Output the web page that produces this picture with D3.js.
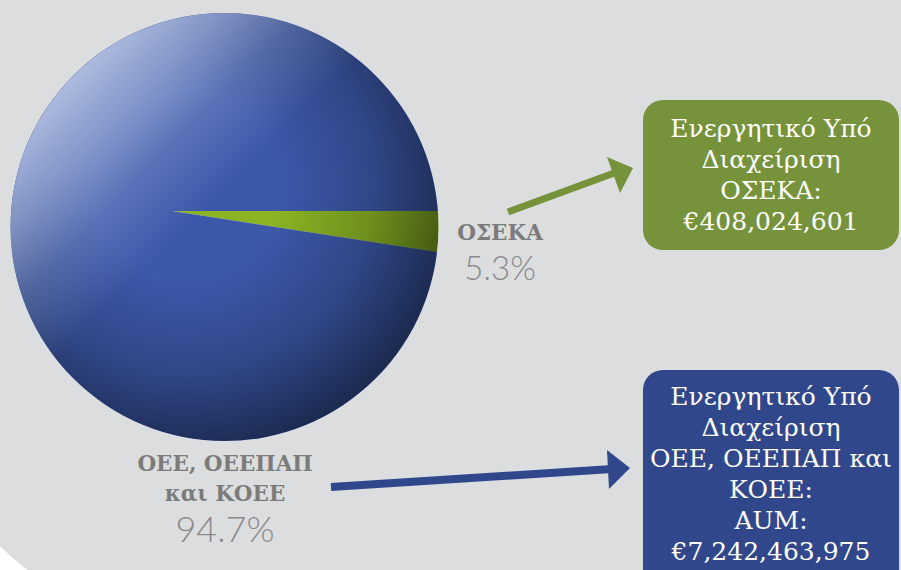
<!DOCTYPE html>
<html>
<head>
<meta charset="utf-8">
<script src="https://cdn.jsdelivr.net/npm/d3@7"></script>
<style>
  body { margin: 0; background: #ffffff; }
  svg { display: block; }
</style>
</head>
<body>
<div id="chart"></div>
<script>
// data
var categories = ['ΟΣΕΚΑ', 'ΟΕΕ, ΟΕΕΠΑΠ και ΚΟΕΕ'];
var shares = [5.3, 94.7];
var aumValues = [408024601, 7242463975];
var pieLabelLines = [['ΟΣΕΚΑ'], ['ΟΕΕ, ΟΕΕΠΑΠ', 'και ΚΟΕΕ']];
var boxLines = [
  ['Ενεργητικό Υπό', 'Διαχείριση', 'ΟΣΕΚΑ:'],
  ['Ενεργητικό Υπό', 'Διαχείριση', 'ΟΕΕ, ΟΕΕΠΑΠ και', 'ΚΟΕΕ:', 'AUM:']
];

var width = 901, height = 570;
var cx = 224.5, cy = 227, r = 214;        // pie disc
var apex = {x: 172, y: 211};              // tilted pie centre
var tilt = 0.446;

var sliceColors = ['#8ab424', '#3c58a9'];
var boxColors = ['#76933b', '#30488b'];

var svg = d3.select('#chart').append('svg')
  .attr('width', width)
  .attr('height', height);

var defs = svg.append('defs');

// background
svg.append('rect')
  .attr('width', width)
  .attr('height', height)
  .attr('fill', '#dcdddf');
svg.append('path')
  .attr('d', 'M0,546 Q14,560 28,570 L0,570 Z')
  .attr('fill', '#ffffff');

defs.append('clipPath').attr('id', 'disc')
  .append('circle')
  .attr('cx', cx).attr('cy', cy).attr('r', r);

// shading
var dark = defs.append('radialGradient')
  .attr('id', 'dark')
  .attr('gradientUnits', 'userSpaceOnUse')
  .attr('cx', 185).attr('cy', 185).attr('r', 268);
dark.append('stop').attr('offset', 0.35).attr('stop-color', '#000').attr('stop-opacity', 0);
dark.append('stop').attr('offset', 0.7).attr('stop-color', '#000').attr('stop-opacity', 0.2);
dark.append('stop').attr('offset', 1).attr('stop-color', '#000').attr('stop-opacity', 0.52);

var light = defs.append('linearGradient')
  .attr('id', 'light')
  .attr('gradientUnits', 'userSpaceOnUse')
  .attr('x1', 73).attr('y1', 76)
  .attr('x2', 376).attr('y2', 378);
light.append('stop').attr('offset', 0).attr('stop-color', '#b4c1e4').attr('stop-opacity', 0.95);
light.append('stop').attr('offset', 0.14).attr('stop-color', '#b4c1e4').attr('stop-opacity', 0.62);
light.append('stop').attr('offset', 0.28).attr('stop-color', '#b4c1e4').attr('stop-opacity', 0.24);
light.append('stop').attr('offset', 0.44).attr('stop-color', '#b4c1e4').attr('stop-opacity', 0);

var pie = d3.pie()
  .sort(null)
  .startAngle(Math.PI / 2)
  .endAngle(Math.PI / 2 + Math.PI * 2);

var arc = d3.arc()
  .innerRadius(0)
  .outerRadius(700);

var disc = svg.append('g').attr('clip-path', 'url(#disc)');

disc.append('g')
  .attr('transform', 'translate(' + apex.x + ',' + apex.y + ') scale(1,' + tilt + ')')
  .selectAll('path')
  .data(pie(shares))
  .enter().append('path')
  .attr('d', arc)
  .attr('fill', function(d, i) { return sliceColors[i]; });

disc.append('circle')
  .attr('cx', cx).attr('cy', cy).attr('r', r)
  .attr('fill', 'url(#dark)');
disc.append('circle')
  .attr('cx', cx).attr('cy', cy).attr('r', r)
  .attr('fill', 'url(#light)');

// pie labels
var pctFormat = function(v) { return d3.format('.1f')(v) + '%'; };
var labelPos = [{x: 500, y: 240}, {x: 225, y: 471}];

labelPos.forEach(function(p, i) {
  var lines = pieLabelLines[i];
  var g = svg.append('g').attr('transform', 'translate(' + p.x + ',' + p.y + ')');
  lines.forEach(function(t, j) {
    g.append('text')
      .attr('y', j * 30)
      .attr('text-anchor', 'middle')
      .attr('font-family', 'DejaVu Serif')
      .attr('font-weight', 'bold')
      .attr('font-size', 21.5)
      .attr('fill', '#7b7b7b')
      .text(t);
  });
  g.append('text')
    .attr('y', (lines.length - 1) * 30 + (i === 0 ? 40 : 41))
    .attr('text-anchor', 'middle')
    .attr('font-family', 'Lato')
    .attr('font-weight', 300)
    .attr('font-size', i === 0 ? 33 : 36)
    .attr('fill', '#8a8a8a')
    .text(pctFormat(shares[i]));
});

// arrows
var arrows = [
  {x1: 508, y1: 212, x2: 617, y2: 172, head: [[607, 157], [633, 168], [620, 193]], w: 7},
  {x1: 331, y1: 487, x2: 612, y2: 469, head: [[607, 450], [630, 468], [609, 489]], w: 8}
];
arrows.forEach(function(a, i) {
  svg.append('line')
    .attr('x1', a.x1).attr('y1', a.y1)
    .attr('x2', a.x2).attr('y2', a.y2)
    .attr('stroke', boxColors[i])
    .attr('stroke-width', a.w);
  svg.append('path')
    .attr('d', 'M' + a.head.join('L') + 'Z')
    .attr('fill', boxColors[i]);
});

// boxes
var boxes = [{y: 100, h: 150, base: 137}, {y: 370, h: 230, base: 405}];
var euro = function(v) { return '€' + d3.format(',')(v); };

boxes.forEach(function(b, i) {
  svg.append('rect')
    .attr('x', 643).attr('y', b.y)
    .attr('width', 256).attr('height', b.h)
    .attr('rx', 20)
    .attr('fill', boxColors[i]);
  var lines = boxLines[i].concat([euro(aumValues[i])]);
  lines.forEach(function(t, j) {
    svg.append('text')
      .attr('x', 771)
      .attr('y', b.base + j * 31)
      .attr('text-anchor', 'middle')
      .attr('font-family', 'DejaVu Serif')
      .attr('font-size', 25)
      .attr('fill', '#ffffff')
      .text(t);
  });
});
</script>
</body>
</html>
